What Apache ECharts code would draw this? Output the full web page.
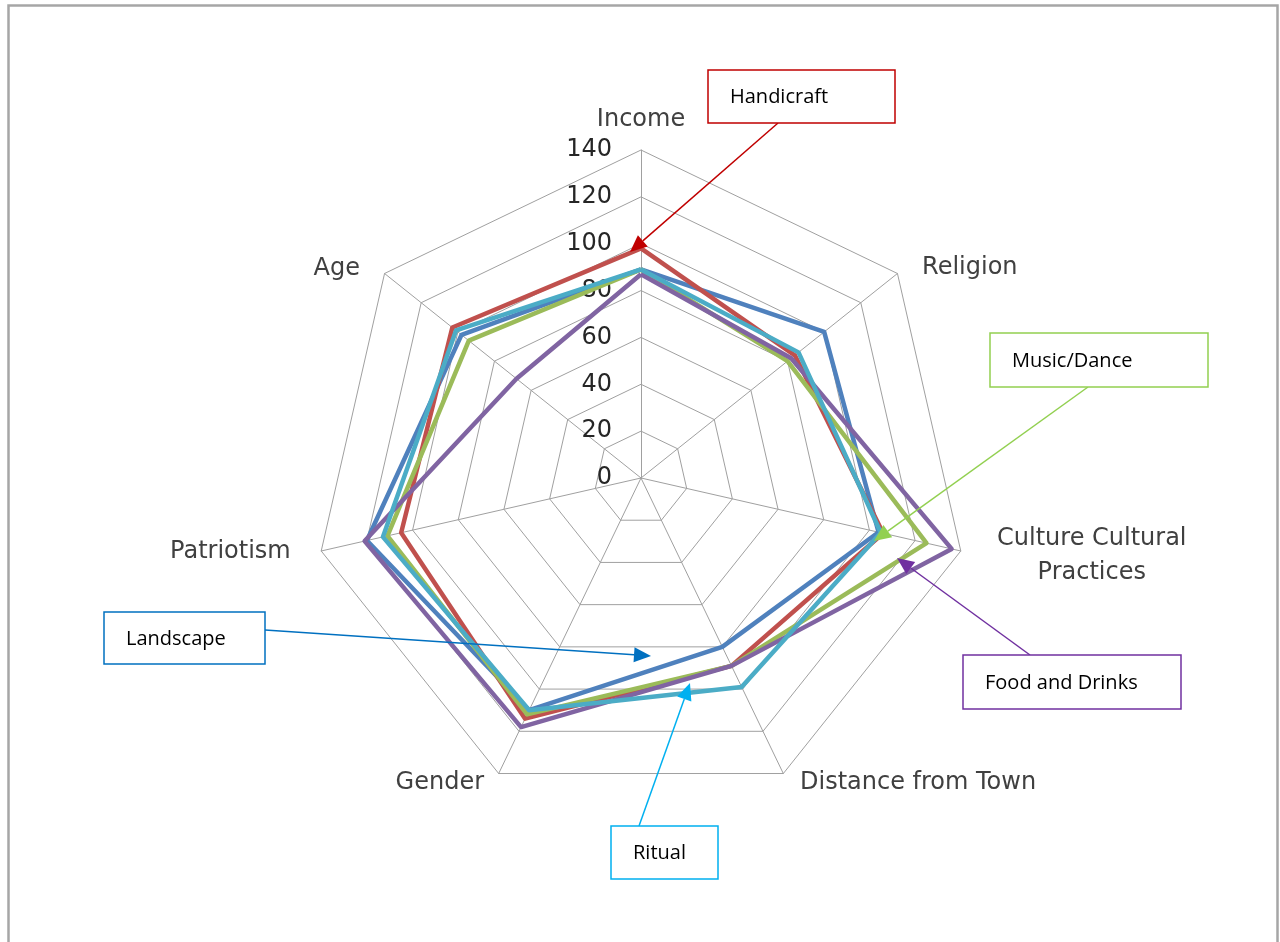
<!DOCTYPE html>
<html>
<head>
<meta charset="utf-8">
<script src="https://cdn.jsdelivr.net/npm/echarts@6/dist/echarts.min.js"></script>
<style>
html,body{margin:0;padding:0;background:#fff;}
#c{width:1280px;height:942px;}
</style>
</head>
<body>
<div id="c"></div>
<script>
// Indicators in ECharts order (counter-clockwise from top)
const categories = ['Income', 'Age', 'Patriotism', 'Gender', 'Distance from Town', 'Culture Cultural Practices', 'Religion'];
const tickValues = [0, 20, 40, 60, 80, 100, 120, 140];
const seriesNames = ['Landscape', 'Handicraft', 'Music/Dance', 'Food and Drinks', 'Ritual'];
const landscape = [89, 98, 120, 110, 80, 104, 100];
const handicraft = [98, 103, 105, 114, 89, 106, 84];
const musicDance = [89, 94, 111, 112, 89, 125, 80];
const foodDrinks = [87, 68, 121, 118, 89, 136, 82];
const ritual = [89, 101, 113, 110, 99, 105, 86];

const colors = ['#4F81BD', '#C0504D', '#9BBB59', '#8064A2', '#4BACC6'];
const seriesValues = [landscape, handicraft, musicDance, foodDrinks, ritual];
const AXFONT = 'DejaVu Sans';
const BOXFONT = 'Open Sans';

const chart = echarts.init(document.getElementById('c'), null, {renderer: 'canvas'});

const nameKey = {
  'Income': 'top', 'Age': 'ul', 'Patriotism': 'l', 'Gender': 'll',
  'Distance from Town': 'lr', 'Culture Cultural Practices': 'r', 'Religion': 'ur'
};

function arrow(x1, y1, x2, y2, color) {
  const ang = Math.atan2(y2 - y1, x2 - x1);
  const L = 17, W = 7.5;
  const bx = x2 - L * Math.cos(ang), by = y2 - L * Math.sin(ang);
  const px = -Math.sin(ang) * W, py = Math.cos(ang) * W;
  return [
    {type: 'line', shape: {x1: x1, y1: y1, x2: bx, y2: by}, style: {stroke: color, lineWidth: 1.5}, z: 100},
    {type: 'polygon', shape: {points: [[x2, y2], [bx + px, by + py], [bx - px, by - py]]}, style: {fill: color}, z: 100}
  ];
}
function box(x, y, w, h, color, text) {
  return [
    {type: 'rect', shape: {x: x, y: y, width: w, height: h}, style: {fill: '#fff', stroke: color, lineWidth: 1.5}, z: 100},
    {type: 'text', x: x + 22, y: y + h / 2 + 1, style: {text: text, fill: '#000', font: '20px "' + BOXFONT + '"', verticalAlign: 'middle'}, z: 101}
  ];
}

const graphics = [].concat(
  [{type: 'rect', shape: {x: 8.5, y: 5.5, width: 1269, height: 1000}, style: {fill: 'none', stroke: '#A6A6A6', lineWidth: 2.5}, z: 0}],
  arrow(778, 123, 630, 252, '#C00000'), box(708, 70, 187, 53, '#C00000', 'Handicraft'),
  arrow(1088, 387, 874, 541, '#92D050'), box(990, 333, 218, 54, '#92D050', 'Music/Dance'),
  arrow(1030, 655, 897, 558, '#7030A0'), box(963, 655, 218, 54, '#7030A0', 'Food and Drinks'),
  arrow(265, 630, 651, 656, '#0070C0'), box(104, 612, 161, 52, '#0070C0', 'Landscape'),
  arrow(639, 826, 690, 683, '#00B0F0'), box(611, 826, 107, 53, '#00B0F0', 'Ritual')
);

const nameBase = {fontSize: 24, color: '#404040', fontFamily: AXFONT};
const option = {
  backgroundColor: '#fff',
  animation: false,
  color: colors,
  textStyle: {fontFamily: AXFONT},
  radar: {
    center: [641, 478],
    radius: 328,
    shape: 'polygon',
    splitNumber: 7,
    startAngle: 90,
    indicator: categories.map((n, i) => i === 0
      ? {name: n, min: tickValues[0], max: tickValues[tickValues.length - 1]}
      : {name: n, min: tickValues[0], max: tickValues[tickValues.length - 1], axisLabel: {show: false}}),
    axisName: {
      color: '#404040',
      fontSize: 24,
      fontFamily: AXFONT,
      formatter: function (name) {
        if (name === 'Culture Cultural Practices') return '{r|Culture Cultural}\n{r|Practices}';
        return '{' + nameKey[name] + '|' + name + '}';
      },
      rich: {
        top: Object.assign({padding: [0, 0, -2, 0]}, nameBase),
        ul: Object.assign({padding: [15, 9, 0, 0]}, nameBase),
        l: Object.assign({padding: [0, 11, 7, 0]}, nameBase),
        ll: Object.assign({padding: [0, 6, 17, 0]}, nameBase),
        lr: Object.assign({padding: [0, 0, 17, 8]}, nameBase),
        r: Object.assign({width: 223, align: 'center', lineHeight: 34}, nameBase),
        ur: Object.assign({padding: [13, 0, 0, 9]}, nameBase)
      }
    },
    nameGap: 20,
    axisLine: {show: true, lineStyle: {color: '#A0A0A0', width: 1}},
    splitLine: {show: true, lineStyle: {color: '#A0A0A0', width: 1}},
    splitArea: {show: false},
    axisTick: {show: false},
    axisLabel: {show: true, color: '#262626', fontSize: 24, fontFamily: AXFONT, margin: 29, padding: [8, 0, 0, 0], showMinLabel: true, showMaxLabel: true}
  },
  series: [{
    type: 'radar',
    symbol: 'none',
    lineStyle: {width: 4.5},
    data: seriesNames.map((n, i) => ({
      name: n,
      value: seriesValues[i],
      lineStyle: {color: colors[i], width: 4.5},
      itemStyle: {color: colors[i]}
    }))
  }],
  graphic: graphics
};
chart.setOption(option);
</script>
</body>
</html>
